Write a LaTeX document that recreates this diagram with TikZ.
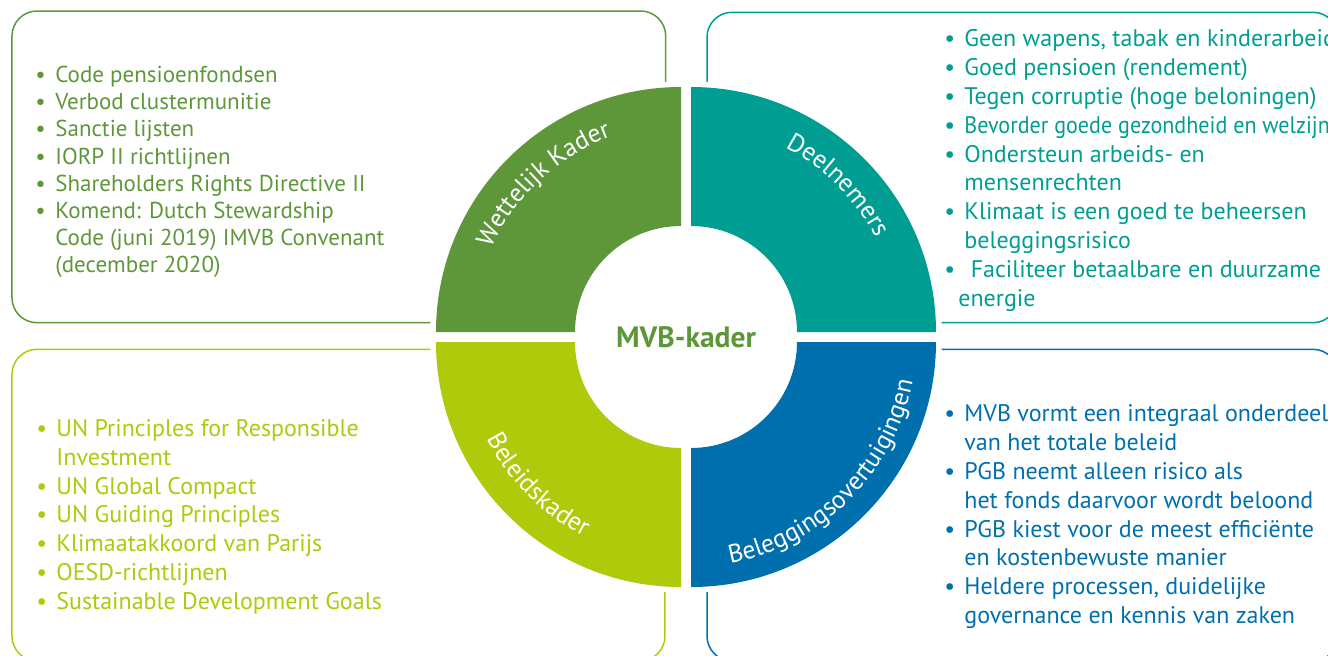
\documentclass[tikz,border=0pt]{standalone}
\usepackage{fontspec}
\setmainfont{PT Sans}
\newfontfamily\ringfont{PT Sans}
\usetikzlibrary{decorations.text}
\definecolor{wkgreen}{RGB}{94,151,57}
\definecolor{dlteal}{RGB}{0,158,146}
\definecolor{bklime}{RGB}{175,202,11}
\definecolor{bvblue}{RGB}{0,111,173}
\newcommand\bul{\makebox[10pt][l]{\textbullet}}
\newcommand\ind{\hspace*{10pt}}
\tikzset{
  boxline/.style={line width=0.75pt, rounded corners=12.5pt},
  listtext/.style={anchor=north west, inner sep=0pt, align=left, font=\fontsize{12pt}{14.4pt}\selectfont},
  ringtext/.style={decorate, decoration={text along path, text align=center, text color=white,
      text={|\ringfont\fontsize{12.8pt}{14pt}\selectfont|#1}}}
}

\begin{document}
\begin{tikzpicture}[x=0.5pt,y=0.5pt]
            \useasboundingbox (-686,-318) rectangle (642,337);
            \clip (-686,-318) rectangle (642,337);
            \draw[boxline, wkgreen] (-674,14.3) rectangle (-20.3,326);
            \draw[boxline, dlteal] (21,14.3) rectangle (652,324.7);
            \draw[boxline, bklime] (-674,-324) rectangle (-21,-12.3);
            \draw[boxline, bvblue] (21,-324) rectangle (652,-12.3);
            \fill[white] (0,0) circle (256);
            \foreach \sx/\sy/\a/\col in {-5/5/90/wkgreen, 5/5/0/dlteal, -5/-5/180/bklime, 5/-5/270/bvblue}
              \fill[\col, shift={(\sx,\sy)}] (\a:106) -- (\a:245) arc (\a:\a+90:245) -- (\a+90:106) arc (\a+90:\a:106) -- cycle;
            \path[ringtext={Wettelijk Kader}] (178:214) arc (178:88:214);
            \path[ringtext={Deelnemers}] (90:214) arc (90:0:214);
            \path[ringtext={Beleidskader}] (180:224) arc (180:270:224);
            \path[ringtext={Beleggingsovertuigingen}] (270:231) arc (270:360:231);
            \node[font=\ringfont\bfseries\fontsize{14.75pt}{16pt}\selectfont, text=wkgreen] (mvb) at (0,0) {MVB-kader};
            \node[listtext, font=\fontsize{11.5pt}{13.55pt}\selectfont, text=wkgreen] (wklist) at (-651,271) {\bul Code pensioenfondsen\\
              \bul Verbod clustermunitie\\
              \bul Sanctie lijsten\\
              \bul IORP II richtlijnen\\
              \bul Shareholders Rights Directive II\\
              \bul Komend: Dutch Stewardship\\
              \ind Code (juni 2019) IMVB Convenant\\
              \ind (december 2020)};
            \node[listtext, text=dlteal] (dllist) at (258,307.5) {\bul Geen wapens, tabak en kinderarbeid\\
              \bul Goed pensioen (rendement)\\
              \bul Tegen corruptie (hoge beloningen)\\
              \bul \scalebox{0.92}[1]{Bevorder goede gezondheid en welzijn}\\
              \bul Ondersteun arbeids- en\\
              \ind mensenrechten\\
              \bul Klimaat is een goed te beheersen\\
              \ind beleggingsrisico\\
              \bul\ Faciliteer betaalbare en duurzame\\
              \hspace*{7pt}energie};
            \node[listtext, text=bklime] (bklist) at (-650,-82) {\bul UN Principles for Responsible\\
              \ind Investment\\
              \bul UN Global Compact\\
              \bul UN Guiding Principles\\
              \bul Klimaatakkoord van Parijs\\
              \bul OESD-richtlijnen\\
              \bul Sustainable Development Goals};
            \node[listtext, text=bvblue] (bvlist) at (258,-67.5) {\bul MVB vormt een integraal onderdeel\\
              \ind van het totale beleid\\
              \bul PGB neemt alleen risico als\\
              \ind het fonds daarvoor wordt beloond\\
              \bul PGB kiest voor de meest efficiënte\\
              \ind en kostenbewuste manier\\
              \bul Heldere processen, duidelijke\\
              \ind governance en kennis van zaken};
        \end{tikzpicture}
\end{document}
